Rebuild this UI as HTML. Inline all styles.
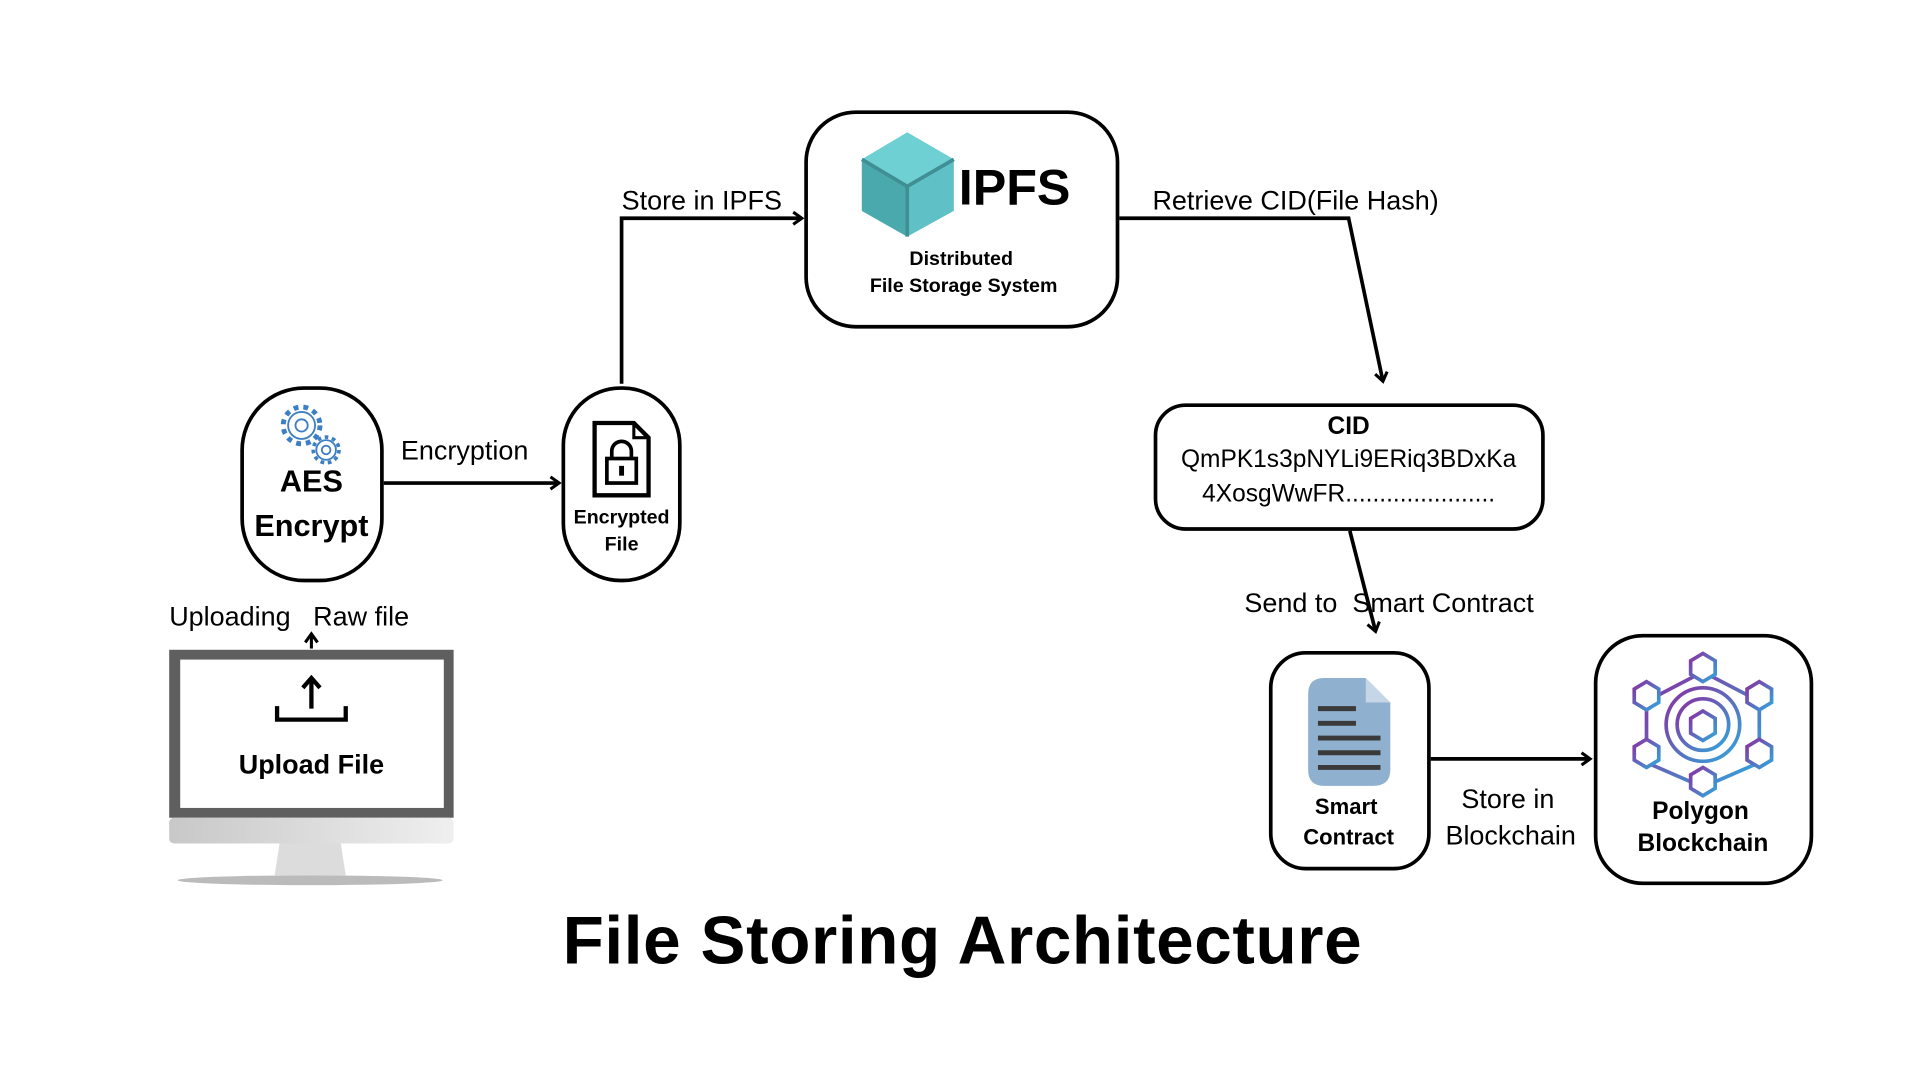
<!DOCTYPE html>
<html><head><meta charset="utf-8"><style>
html,body{margin:0;padding:0;background:#fff;width:1920px;height:1080px;overflow:hidden}
#w{position:absolute;left:0;top:0;width:1566px;height:881px;transform:scale(1.226,1.226);transform-origin:0 0;font-family:"Liberation Sans",sans-serif;color:#000}
.box{position:absolute;border:3px solid #000;background:#fff;box-sizing:border-box}
.t{position:absolute;white-space:nowrap;line-height:1}
.c{text-align:center;transform:translateX(-50%)}
.b{font-weight:bold}
</style></head><body><div id="w">
<svg width="1566" height="881" style="position:absolute;left:0;top:0">
<defs><marker id="a" markerWidth="12" markerHeight="12" refX="9" refY="6" orient="auto" markerUnits="userSpaceOnUse"><path d="M2,1 L9,6 L2,11" fill="none" stroke="#000" stroke-width="2.5"/></marker>
<linearGradient id="pg" x1="0" y1="0" x2="1" y2="1"><stop offset="0" stop-color="#8b2fa0"/><stop offset="1" stop-color="#2fa8dc"/></linearGradient>
<linearGradient id="chin" x1="0" y1="0" x2="1" y2="0"><stop offset="0" stop-color="#c8c8c8"/><stop offset="1" stop-color="#efefef"/></linearGradient></defs>
<g stroke="#000" stroke-width="3" fill="none">
<line x1="313" y1="394" x2="456" y2="394" marker-end="url(#a)"/>
<polyline points="507,313 507,178 654,178" marker-end="url(#a)"/>
<polyline points="913,178 1100,178 1128,311" marker-end="url(#a)"/>
<line x1="1101" y1="433" x2="1122" y2="515" marker-end="url(#a)"/>
<line x1="1167" y1="619" x2="1297" y2="619" marker-end="url(#a)"/>
<line x1="254" y1="529" x2="254" y2="517" stroke-width="2.5" marker-end="url(#a)"/>
</g>
<rect x="138" y="530" width="232" height="137" fill="#5f5f5f"/>
<rect x="147" y="538" width="215" height="121" fill="#fff"/>
<rect x="138" y="667" width="232" height="21" rx="4" fill="url(#chin)"/>
<path d="M228,688 L278,688 L282,714 L224,714 Z" fill="#dcdcdc"/>
<ellipse cx="253" cy="718" rx="108" ry="4" fill="#bbb"/>
<g stroke="#000" stroke-width="3.5" fill="none"><polyline points="226,576 226,587 282,587 282,576"/><line x1="254" y1="578" x2="254" y2="554"/><polyline points="247,561 254,553 261,561"/></g>
<polygon points="740,108 778,130 778,172 740,193 703,172 703,130" fill="#5fc1c6"/>
<polygon points="740,108 778,130 740,152 703,130" fill="#6fd0d3"/>
<polygon points="703,130 740,152 740,193 703,172" fill="#4aa9ad"/>
<g stroke="#3f8f94" stroke-width="3" fill="none"><polyline points="703,130 740,152 778,130"/><line x1="740" y1="152" x2="740" y2="193"/></g>
<g fill="none" stroke="#3d7fc4" stroke-width="1.5"><circle cx="246" cy="347" r="11"/><circle cx="246" cy="347" r="5"/><circle cx="266" cy="367" r="8"/><circle cx="266" cy="367" r="3.5"/>
<circle cx="246" cy="347" r="15" stroke-dasharray="4 4" stroke-width="4"/><circle cx="266" cy="367" r="10.5" stroke-dasharray="3 3" stroke-width="3"/></g>
<path d="M485,345 L517,345 L529,357 L529,404 L485,404 Z" fill="none" stroke="#000" stroke-width="3.5"/>
<path d="M517,345 L517,357 L529,357" fill="none" stroke="#000" stroke-width="2.5"/>
<rect x="495" y="374" width="24" height="20" fill="none" stroke="#000" stroke-width="3"/>
<path d="M499,374 v-6 a8,8 0 0 1 16,0 v6" fill="none" stroke="#000" stroke-width="3"/>
<rect x="505" y="380" width="4" height="8" fill="#000"/>
<path d="M1080,553 L1114,553 L1134,573 L1134,628 Q1134,641 1120,641 L1080,641 Q1067,641 1067,628 L1067,566 Q1067,553 1080,553Z" fill="#8fb0cf"/>
<path d="M1114,553 L1114,573 L1134,573Z" fill="#c6d6e6"/>
<g stroke="#3a3a3a" stroke-width="4"><line x1="1075" y1="578" x2="1106" y2="578"/><line x1="1075" y1="590" x2="1106" y2="590"/><line x1="1075" y1="602" x2="1126" y2="602"/><line x1="1075" y1="614" x2="1126" y2="614"/><line x1="1075" y1="626" x2="1126" y2="626"/></g>
<g fill="none" stroke="url(#pg)" stroke-width="3">
<polygon points="1389,548 1435,572 1435,622 1389,642 1343,622 1343,572"/>
<circle cx="1389" cy="591" r="30"/><circle cx="1389" cy="591" r="21"/>
<polygon points="1389,580 1399,586 1399,598 1389,604 1379,598 1379,586"/>
<polygon points="1389,533 1399,539 1399,550 1389,556 1379,550 1379,539" fill="#fff"/>
<polygon points="1343,556 1353,562 1353,573 1343,579 1333,573 1333,562" fill="#fff"/>
<polygon points="1435,556 1445,562 1445,573 1435,579 1425,573 1425,562" fill="#fff"/>
<polygon points="1343,603 1353,609 1353,620 1343,626 1333,620 1333,609" fill="#fff"/>
<polygon points="1435,603 1445,609 1445,620 1435,626 1425,620 1425,609" fill="#fff"/>
<polygon points="1389,626 1399,632 1399,643 1389,649 1379,643 1379,632" fill="#fff"/>
<line x1="1389" y1="556" x2="1389" y2="561"/><line x1="1389" y1="621" x2="1389" y2="626"/>
</g>
</svg>
<div class="box" style="left:656px;top:90px;width:257px;height:178px;border-radius:42px;background:transparent"></div>
<div class="box" style="left:196px;top:315px;width:117px;height:160px;border-radius:52px;background:transparent"></div>
<div class="box" style="left:458px;top:315px;width:98px;height:160px;border-radius:48px;background:transparent"></div>
<div class="box" style="left:941px;top:329px;width:319px;height:104px;border-radius:26px"></div>
<div class="box" style="left:1035px;top:531px;width:132px;height:179px;border-radius:30px;background:transparent"></div>
<div class="box" style="left:1300px;top:517px;width:179px;height:205px;border-radius:40px;background:transparent"></div>

<div class="t b" style="left:782px;top:133px;font-size:41px">IPFS</div>
<div class="t b c" style="left:784px;top:204px;font-size:16px">Distributed</div>
<div class="t b c" style="left:786px;top:226px;font-size:16px">File Storage System</div>
<div class="t b c" style="left:254px;top:381px;font-size:25px">AES</div>
<div class="t b c" style="left:254px;top:417px;font-size:25px">Encrypt</div>
<div class="t b c" style="left:507px;top:415px;font-size:16px">Encrypted</div>
<div class="t b c" style="left:507px;top:437px;font-size:16px">File</div>
<div class="t" style="left:327px;top:357px;font-size:22px">Encryption</div>
<div class="t" style="left:507px;top:153px;font-size:22px">Store in IPFS</div>
<div class="t" style="left:940px;top:153px;font-size:22px">Retrieve CID(File Hash)</div>
<div class="t b c" style="left:1100px;top:338px;font-size:20px">CID</div>
<div class="t c" style="left:1100px;top:365px;font-size:20px">QmPK1s3pNYLi9ERiq3BDxKa</div>
<div class="t c" style="left:1100px;top:393px;font-size:20px">4XosgWwFR......................</div>
<div class="t" style="left:1015px;top:481px;font-size:22px">Send to&nbsp; Smart Contract</div>
<div class="t b c" style="left:1098px;top:649px;font-size:18px">Smart</div>
<div class="t b c" style="left:1100px;top:674px;font-size:18px">Contract</div>
<div class="t" style="left:1192px;top:641px;font-size:22px">Store in</div>
<div class="t" style="left:1179px;top:671px;font-size:22px">Blockchain</div>
<div class="t b c" style="left:1387px;top:652px;font-size:20px">Polygon</div>
<div class="t b c" style="left:1389px;top:678px;font-size:20px">Blockchain</div>
<div class="t" style="left:138px;top:492px;font-size:22px">Uploading&nbsp;&nbsp; Raw file</div>
<div class="t b c" style="left:254px;top:613px;font-size:22px">Upload File</div>
<div class="t b c" style="left:785px;top:740px;font-size:55px;letter-spacing:0.5px">File Storing Architecture</div>
</div></body></html>
